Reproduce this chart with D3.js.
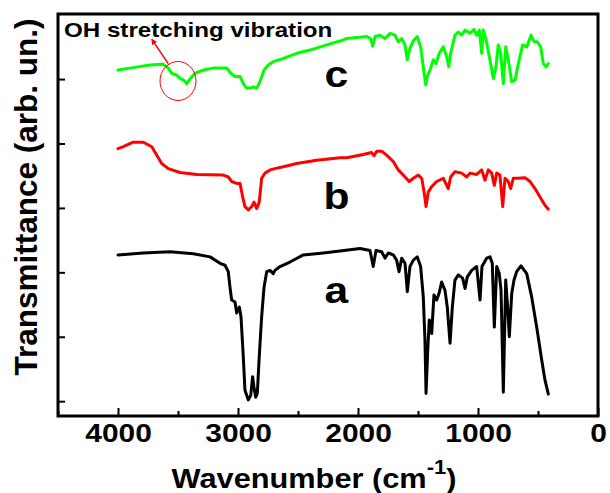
<!DOCTYPE html>
<html>
<head>
<meta charset="utf-8">
<script src="https://cdn.jsdelivr.net/npm/d3@7"></script>
<style>
  html, body { margin: 0; padding: 0; background: #fff; }
  svg { display: block; font-family: "Liberation Sans", Arial, sans-serif; font-weight: bold; }
</style>
</head>
<body>
<svg id="chart"></svg>
<script>
// axis ticks
const xTicks = [4000, 3000, 2000, 1000, 0];
const xMinorTicks = [4500, 3500, 2500, 1500, 500];
const yTicks = [0, 1, 2, 3, 4, 5];

// spectra, [wavenumber, transmittance (arb. un.)]
const curveA = [
  [4000, 2.27], [3789, 2.30], [3567, 2.32], [3372, 2.29], [3233, 2.24], [3150, 2.14], [3108, 2.11],
  [3081, 2.01], [3067, 1.77], [3053, 1.57], [3025, 1.54], [3011, 1.37], [2989, 1.46], [2975, 1.31],
  [2956, 0.69], [2942, 0.17], [2914, 0.02], [2894, 0.09], [2878, 0.38], [2867, 0.22], [2853, 0.06],
  [2839, 0.12], [2823, 0.69], [2803, 1.31], [2783, 1.77], [2761, 2.01], [2733, 2.03], [2706, 1.98],
  [2692, 2.03], [2650, 2.09], [2567, 2.16], [2456, 2.27], [2289, 2.30], [2150, 2.33], [1983, 2.37],
  [1900, 2.34], [1873, 2.09], [1850, 2.34], [1803, 2.32], [1775, 2.22], [1748, 2.30], [1706, 2.27],
  [1678, 2.19], [1658, 2.01], [1636, 2.22], [1608, 2.14], [1589, 1.70], [1567, 2.09], [1539, 2.19],
  [1506, 2.24], [1478, 2.09], [1456, 1.62], [1442, 0.95], [1433, 0.12], [1419, 0.79], [1406, 1.26],
  [1386, 1.05], [1367, 1.65], [1344, 1.57], [1325, 1.67], [1303, 1.85], [1275, 1.72], [1256, 1.46],
  [1233, 0.90], [1214, 1.46], [1192, 1.88], [1164, 1.96], [1128, 1.91], [1108, 1.75], [1089, 1.93],
  [1053, 2.03], [1011, 2.09], [983, 1.57], [967, 2.09], [928, 2.22], [900, 2.24], [881, 2.14],
  [864, 1.15], [844, 2.09], [823, 1.98], [808, 1.72], [789, 0.14], [769, 1.88], [753, 1.46],
  [739, 1.00], [719, 1.67], [700, 1.88], [678, 2.01], [642, 2.10], [594, 1.98], [553, 1.62],
  [511, 1.15], [469, 0.64], [442, 0.33], [414, 0.11]
];

const curveB = [
  [4000, 3.92], [3956, 3.95], [3873, 4.02], [3789, 4.02], [3719, 3.95], [3678, 3.82], [3636, 3.69],
  [3581, 3.61], [3483, 3.55], [3344, 3.52], [3123, 3.51], [3081, 3.48], [3053, 3.41], [3011, 3.38],
  [2983, 3.38], [2961, 3.17], [2942, 3.02], [2914, 2.97], [2886, 3.02], [2867, 3.09], [2844, 2.99],
  [2823, 3.09], [2803, 3.46], [2775, 3.54], [2733, 3.59], [2692, 3.61], [2622, 3.64], [2511, 3.69],
  [2344, 3.74], [2150, 3.78], [2094, 3.78], [1956, 3.83], [1886, 3.86], [1867, 3.81], [1844, 3.88],
  [1803, 3.88], [1761, 3.82], [1706, 3.72], [1664, 3.59], [1608, 3.48], [1573, 3.41], [1539, 3.46],
  [1498, 3.51], [1469, 3.46], [1448, 3.23], [1433, 3.02], [1414, 3.25], [1386, 3.33], [1344, 3.41],
  [1289, 3.46], [1248, 3.30], [1228, 3.48], [1192, 3.56], [1136, 3.54], [1094, 3.48], [1067, 3.54],
  [1011, 3.52], [969, 3.59], [942, 3.43], [914, 3.59], [886, 3.54], [864, 3.35], [844, 3.54],
  [817, 3.51], [794, 3.02], [775, 3.46], [748, 3.41], [728, 3.30], [706, 3.46], [664, 3.46],
  [608, 3.47], [567, 3.41], [525, 3.30], [483, 3.17], [442, 3.04], [414, 2.98]
];

const curveC = [
  [4000, 5.14], [3900, 5.17], [3733, 5.22], [3623, 5.23], [3581, 5.17], [3553, 5.09], [3511, 5.06],
  [3483, 5.01], [3450, 4.98], [3428, 4.93], [3400, 5.00], [3358, 5.09], [3289, 5.14], [3206, 5.17],
  [3094, 5.17], [3061, 5.09], [3025, 5.04], [2983, 5.04], [2956, 4.93], [2928, 4.86], [2900, 4.86],
  [2872, 4.88], [2844, 4.86], [2817, 4.96], [2783, 5.14], [2748, 5.22], [2706, 5.27], [2622, 5.32],
  [2511, 5.40], [2400, 5.45], [2261, 5.53], [2150, 5.59], [2094, 5.63], [1928, 5.66], [1894, 5.63],
  [1878, 5.51], [1858, 5.66], [1817, 5.68], [1775, 5.63], [1733, 5.71], [1692, 5.68], [1664, 5.58],
  [1636, 5.63], [1608, 5.53], [1589, 5.30], [1567, 5.48], [1533, 5.61], [1506, 5.66], [1478, 5.50],
  [1456, 5.19], [1436, 4.91], [1423, 5.04], [1400, 5.14], [1372, 5.30], [1350, 5.24], [1323, 5.40],
  [1289, 5.50], [1261, 5.35], [1244, 5.19], [1228, 5.40], [1192, 5.68], [1164, 5.73], [1136, 5.68],
  [1108, 5.76], [1067, 5.71], [1033, 5.77], [1011, 5.68], [989, 5.76], [969, 5.40], [956, 5.76],
  [933, 5.61], [906, 5.35], [872, 5.01], [850, 5.19], [831, 5.53], [811, 5.40], [789, 4.93],
  [769, 5.50], [748, 5.30], [719, 4.96], [692, 4.98], [664, 5.24], [628, 5.53], [594, 5.50],
  [558, 5.68], [533, 5.58], [506, 5.58], [478, 5.50], [456, 5.24], [433, 5.19], [414, 5.24]
];

const curveLabels = [["a", 2180, 1.52], ["b", 2180, 2.98], ["c", 2180, 4.88]];
const ohText = ["OH stretching vibration", 4450, 5.65];
const ohCircle = [3500, 4.97];
const ohArrow = [[3581, 5.24], [3719, 5.62]];

const width = 610, height = 493;
const plotLeft = 58, plotRight = 598, plotTop = 14, plotBottom = 416;
const stretch = 1.15;

const svg = d3.select('#chart')
  .attr('width', width)
  .attr('height', height);

const x = d3.scaleLinear().domain([4500, 0]).range([plotLeft, plotRight]);
const y = d3.scaleLinear().domain([-0.23, 6.01]).range([plotBottom, plotTop]);

// widen glyphs horizontally, the original figure is a bit stretched
function widen(sel) {
  sel.each(function() {
    const len = this.getComputedTextLength();
    d3.select(this).attr('textLength', len * stretch).attr('lengthAdjust', 'spacingAndGlyphs');
  });
}

// ticks
const xMajor = d3.axisBottom(x).tickValues(xTicks).tickSize(-8).tickPadding(7.5).tickFormat(d3.format('d'));
const xMinor = d3.axisBottom(x).tickValues(xMinorTicks).tickSize(-5).tickFormat('');
const yAxis = d3.axisLeft(y).tickValues(yTicks).tickSize(-7).tickFormat('');

const gx = svg.append('g').attr('transform', `translate(0,${plotBottom})`).call(xMajor);
svg.append('g').attr('transform', `translate(0,${plotBottom})`).call(xMinor);
svg.append('g').attr('transform', `translate(${plotLeft},0)`).call(yAxis);

svg.selectAll('.domain').remove();
svg.selectAll('.tick line').attr('stroke', '#000').attr('stroke-width', 2);
gx.selectAll('text')
  .attr('fill', '#000')
  .style('font-family', '"Liberation Sans", Arial, sans-serif')
  .style('font-weight', 'bold')
  .style('font-size', '26px')
  .call(widen);

// frame
svg.append('rect')
  .attr('x', plotLeft).attr('y', plotTop)
  .attr('width', plotRight - plotLeft).attr('height', plotBottom - plotTop)
  .attr('fill', 'none').attr('stroke', '#000').attr('stroke-width', 3);

// spectra
const line = d3.line().x(d => x(d[0])).y(d => y(d[1]));
const series = [[curveA, '#000000'], [curveB, '#ff0000'], [curveC, '#00ff00']];
svg.selectAll('.spectrum')
  .data(series)
  .join('path')
  .attr('class', 'spectrum')
  .attr('d', d => line(d[0]))
  .attr('fill', 'none')
  .attr('stroke', d => d[1])
  .attr('stroke-width', 3)
  .attr('stroke-linejoin', 'round')
  .attr('stroke-linecap', 'round');

// a, b, c
svg.selectAll('.curve-label')
  .data(curveLabels)
  .join('text')
  .attr('class', 'curve-label')
  .attr('x', d => x(d[1]))
  .attr('y', d => y(d[2]))
  .attr('text-anchor', 'middle')
  .style('font-size', '37px')
  .text(d => d[0])
  .call(widen);

// OH annotation
svg.append('defs').append('marker')
  .attr('id', 'arrow')
  .attr('viewBox', '0 0 10 10')
  .attr('refX', 9).attr('refY', 5)
  .attr('markerWidth', 6).attr('markerHeight', 6)
  .attr('markerUnits', 'userSpaceOnUse')
  .attr('orient', 'auto')
  .append('path')
  .attr('d', 'M0,0L10,5L0,10z')
  .attr('fill', '#ff0000');

svg.append('line')
  .attr('x1', x(ohArrow[0][0])).attr('y1', y(ohArrow[0][1]))
  .attr('x2', x(ohArrow[1][0])).attr('y2', y(ohArrow[1][1]))
  .attr('stroke', '#ff0000').attr('stroke-width', 1.5)
  .attr('marker-end', 'url(#arrow)');

svg.append('ellipse')
  .attr('cx', x(ohCircle[0])).attr('cy', y(ohCircle[1]))
  .attr('rx', 18).attr('ry', 19.5)
  .attr('fill', 'none').attr('stroke', '#ff0000').attr('stroke-width', 1);

svg.append('text')
  .attr('x', x(ohText[1]))
  .attr('y', y(ohText[2]))
  .style('font-size', '21px')
  .text(ohText[0])
  .call(widen);

// axis titles
svg.append('text')
  .attr('transform', 'translate(37,197) rotate(-90)')
  .attr('text-anchor', 'middle')
  .attr('textLength', 357)
  .attr('lengthAdjust', 'spacingAndGlyphs')
  .style('font-size', '31px')
  .text('Transmittance (arb. un.)');

const xTitleG = svg.append('g');
const xTitle = xTitleG.append('text')
  .attr('text-anchor', 'middle')
  .style('font-size', '28px');
xTitle.append('tspan').text('Wavenumber (cm');
xTitle.append('tspan').attr('dy', -14).style('font-size', '20px').text('-1');
xTitle.append('tspan').attr('dy', 14).text(')');
// fit title to the width it has in the figure
const titleScale = 285 / xTitle.node().getBBox().width;
xTitleG.attr('transform', `translate(314,488) scale(${titleScale},1)`);
</script>
</body>
</html>
